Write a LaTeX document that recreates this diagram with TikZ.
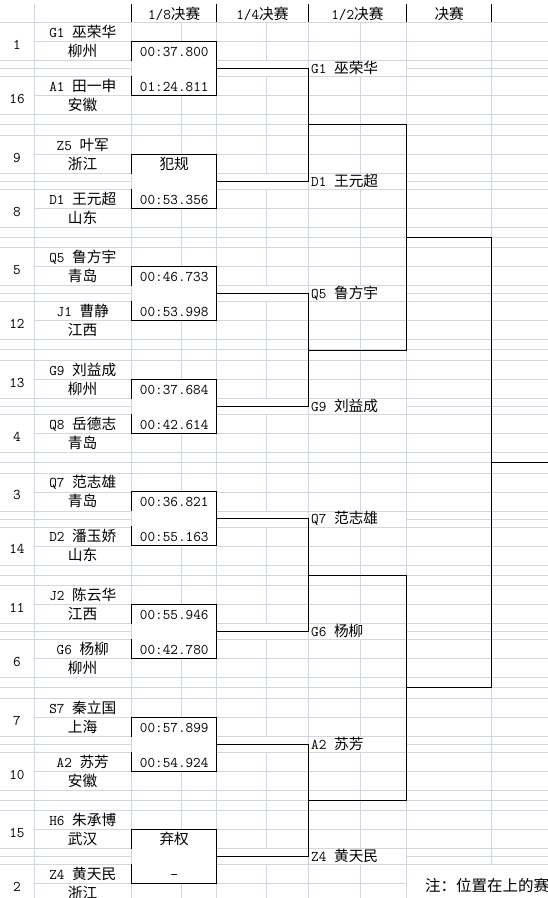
\documentclass[tikz,border=0pt]{standalone}
\usepackage{fontspec}
\newfontfamily\cjk{Noto Sans CJK SC}[Scale=0.993]
\usetikzlibrary{calc}
\definecolor{gridc}{HTML}{D0D7E5}
\begin{document}
\begin{tikzpicture}[x=1pt,y=-1pt,
  grid/.style={draw=gridc,line width=0.8pt},
  brk/.style={draw=black,line width=1pt,line cap=rect},
  txt/.style={inner sep=0pt,anchor=base,font=\ttfamily\fontsize{14.8}{17}\selectfont},
  wtxt/.style={txt,anchor=base west}]
\useasboundingbox (0,0) rectangle (548,898);
\clip (0,0) rectangle (548,898);
\fill[white] (0,0) rectangle (548,898);
% full vertical grid lines
\foreach \x in {34,131.7,216.7,308.3,406.7,491.7} \draw[grid] (\x,4) -- (\x,898);
% header
\node[txt] (h1) at (174.2,19) {1/8{\cjk 决赛}};
\node[txt] (h2) at (262.5,19) {1/4{\cjk 决赛}};
\node[txt] (h3) at (357.5,19) {1/2{\cjk 决赛}};
\node[txt] (h4) at (449.2,19) {\cjk 决赛};
\foreach \x in {131.7,216.7,308.3,406.7,491.7} \draw[brk,line cap=butt] (\x,4) -- (\x,22.7);
% blocks
\foreach \k/\sa/\sb/\ga/\na/\ca/\ta/\gb/\nb/\cb/\tb/\gw/\nw in {
0/1/16/G1/巫荣华/柳州/00:37.800/A1/田一申/安徽/01:24.811/G1/巫荣华,
1/9/8/Z5/叶军/浙江/{\cjk 犯规}/D1/王元超/山东/00:53.356/D1/王元超,
2/5/12/Q5/鲁方宇/青岛/00:46.733/J1/曹静/江西/00:53.998/Q5/鲁方宇,
3/13/4/G9/刘益成/柳州/00:37.684/Q8/岳德志/青岛/00:42.614/G9/刘益成,
4/3/14/Q7/范志雄/青岛/00:36.821/D2/潘玉娇/山东/00:55.163/Q7/范志雄,
5/11/6/J2/陈云华/江西/00:55.946/G6/杨柳/柳州/00:42.780/G6/杨柳,
6/7/10/S7/秦立国/上海/00:57.899/A2/苏芳/安徽/00:54.924/A2/苏芳,
7/15/2/H6/朱承博/武汉/{\cjk 弃权}/Z4/黄天民/浙江/-/Z4/黄天民}{
  \pgfmathsetmacro\s{22.7+112.57*\k}
  % horizontal grid
  \foreach \o in {0,38,46,54,92,102} \draw[grid] (0,{\s+\o}) -- (34,{\s+\o});
  \foreach \o in {0,19,38,46,54,73,92,102} \draw[grid] (34,{\s+\o}) -- (131.7,{\s+\o});
  \foreach \o in {0,92,102} \draw[grid] (131.7,{\s+\o}) -- (216.7,{\s+\o});
  \foreach \o in {0,19,38,54,73,92,102} \draw[grid] (216.7,{\s+\o}) -- (406.7,{\s+\o});
  \foreach \o in {0,19,38,46,54,73,92,102} \draw[grid] (406.7,{\s+\o}) -- (548,{\s+\o});
  % sub-column grid
  \draw[grid] (181.7,{\s}) -- (181.7,{\s+19}) (181.7,{\s+73}) -- (181.7,{\s+112.57});
  \draw[grid] (266.7,{\s}) -- (266.7,{\s+38}) (266.7,{\s+54}) -- (266.7,{\s+112.57});
  \draw[grid] (360.7,{\s}) -- (360.7,{\s+38}) (360.7,{\s+54}) -- (360.7,{\s+112.57});
  % texts
  \node[txt] (sa\k) at (17,{\s+27}) {\sa};
  \node[txt] (sb\k) at (17,{\s+81}) {\sb};
  \node[txt] (na\k) at (82.8,{\s+15}) {{\ga} {\cjk\na}};
  \node[txt] (ca\k) at (82.5,{\s+34}) {\cjk\ca};
  \node[txt] (nb\k) at (82.8,{\s+69}) {{\gb} {\cjk\nb}};
  \node[txt] (cb\k) at (82.5,{\s+88}) {\cjk\cb};
  \node[txt] (ta\k) at (174.2,{\s+34}) {\ta};
  \node[txt] (tb\k) at (174.2,{\s+69}) {\tb};
  \node[wtxt] (w\k) at (311,{\s+51}) {{\gw} {\cjk\nw}};
  % box and connector
  \draw[brk] (131.7,{\s+38}) -- (131.7,{\s+19}) -- (216.7,{\s+19}) -- (216.7,{\s+73}) -- (131.7,{\s+73}) -- (131.7,{\s+54});
  \coordinate (bx\k) at (216.7,{\s+46});
  \coordinate (q\k) at (308.3,{\s+46});
  \draw[brk] (bx\k) -- (q\k);
}
% quarter-final connectors
\foreach \a/\b/\i in {0/1/0,2/3/1,4/5/2,6/7/3}{
  \draw[brk] (q\a) -- (q\b);
  \coordinate (m\i) at ($(q\a)!.5!(q\b)$);
  \coordinate (t\i) at (406.7,0 |- m\i);
  \draw[brk] (m\i) -- (t\i);
}
% semi-final connectors
\foreach \a/\b/\i in {0/1/0,2/3/1}{
  \draw[brk] (t\a) -- (t\b);
  \coordinate (u\i) at ($(t\a)!.5!(t\b)$);
  \coordinate (v\i) at (491.7,0 |- u\i);
  \draw[brk] (u\i) -- (v\i);
}
% final connector
\draw[brk] (v0) -- (v1);
\coordinate (f) at ($(v0)!.5!(v1)$);
\coordinate (fe) at (548,0 |- f);
\draw[brk] (f) -- (fe);
% note
\fill[white] (407.3,865.3) rectangle (548,898);
\node[wtxt,font=\cjk\fontsize{15.6}{18}\selectfont] (note) at (425,891) {注：位置在上的赛};
\end{tikzpicture}
\end{document}
